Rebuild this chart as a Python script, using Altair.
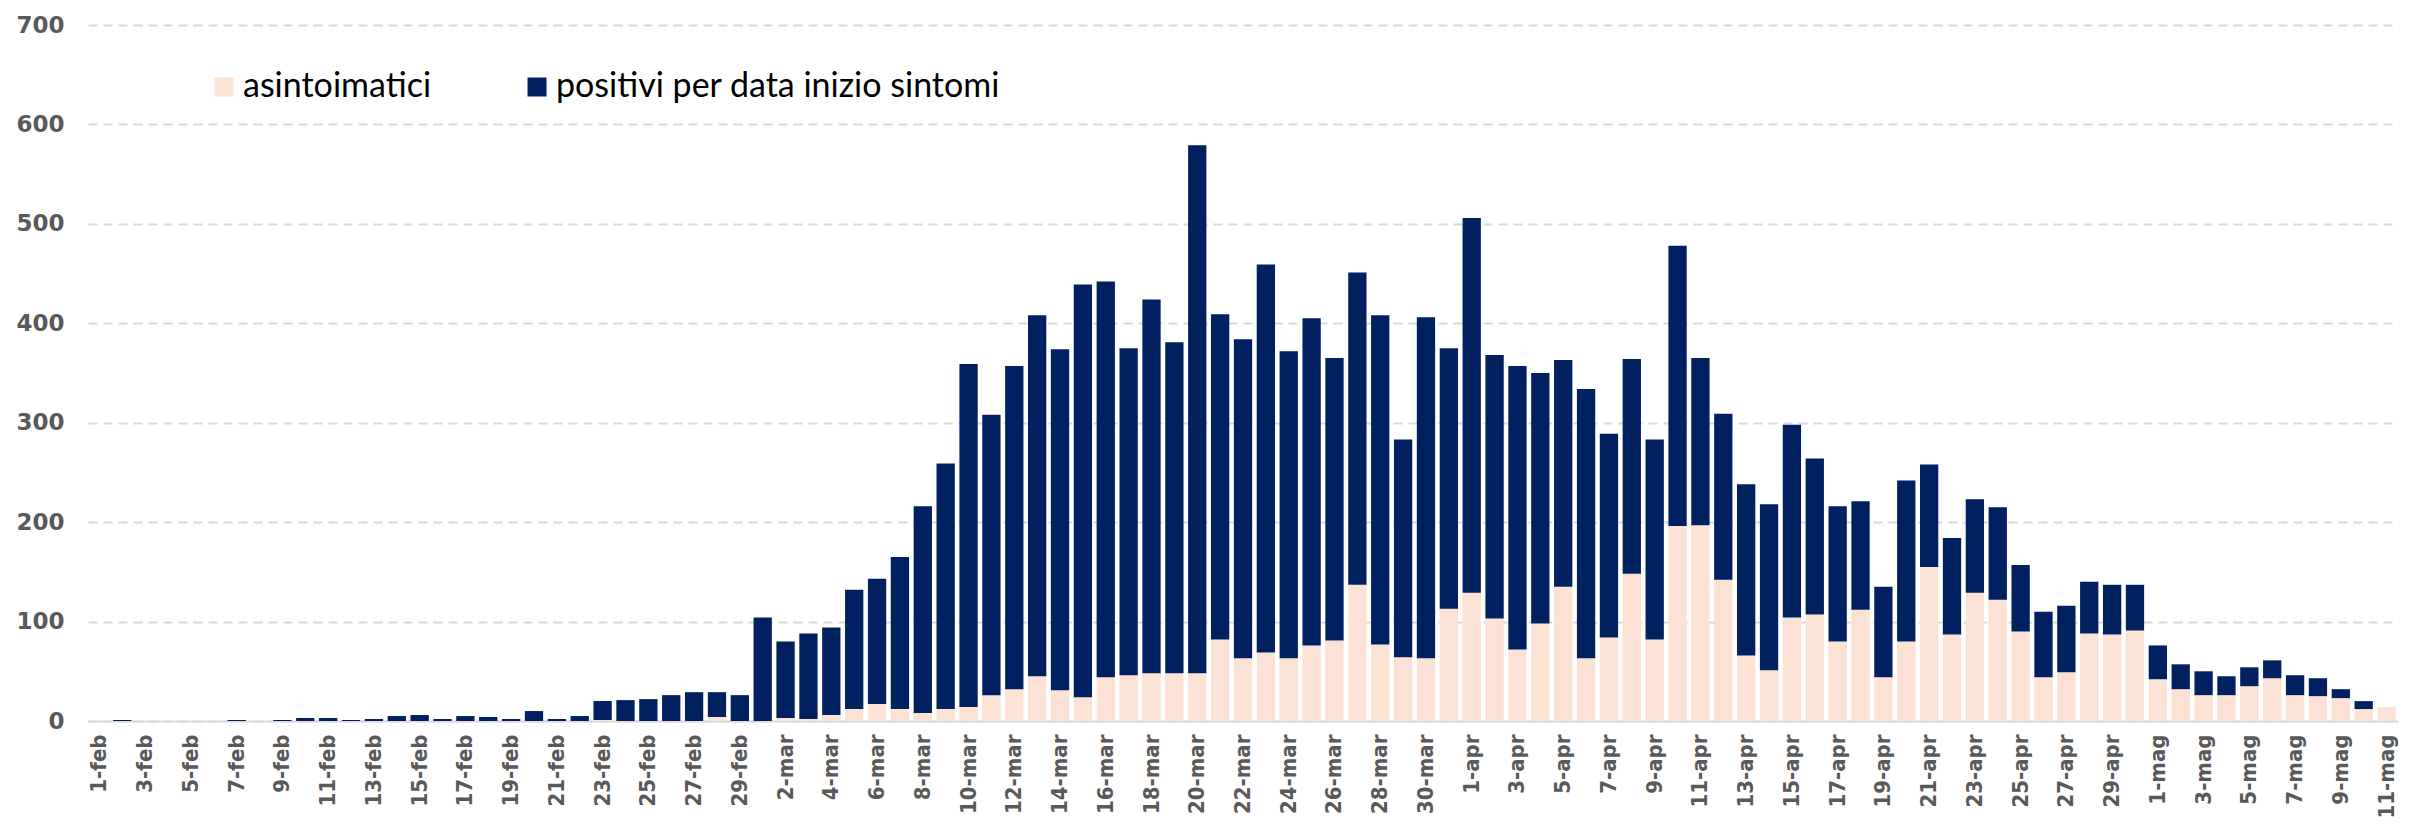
import altair as alt
import pandas as pd

# date categories (1 feb - 11 mag 2020)
months = [("feb", 29), ("mar", 31), ("apr", 30), ("mag", 11)]
dates = [f"{d}-{m}" for m, n in months for d in range(1, n + 1)]

series_names = ["asintoimatici", "positivi per data inizio sintomi"]
series_colors = ["#FBE2D5", "#002060"]

asintomatici = (
    # feb
    [0, 0, 0, 0, 0, 0, 0, 0, 0, 0, 0, 0, 0, 0, 0, 0, 0, 0, 0, 0, 0, 0, 1, 0, 0, 0, 0, 4, 0]
    # mar
    + [0, 3, 2, 6, 12, 17, 12, 8, 12, 14, 26, 32, 45, 31, 24, 44, 46, 48, 48, 48,
       82, 63, 69, 63, 76, 81, 137, 77, 64, 63, 113]
    # apr
    + [129, 103, 72, 98, 135, 63, 84, 148, 82, 196, 197, 142, 66, 51, 104, 107, 80, 112, 44, 80,
       155, 87, 129, 122, 90, 44, 49, 88, 87, 91]
    # mag
    + [42, 32, 26, 26, 35, 43, 26, 25, 23, 12, 14]
)

positivi = (
    # feb
    [0, 1, 0, 0, 0, 0, 1, 0, 1, 3, 3, 1, 2, 5, 6, 2, 5, 4, 2, 10, 2, 5, 19, 21, 22, 26, 29, 25, 26]
    # mar
    + [104, 77, 86, 88, 120, 126, 153, 208, 247, 345, 282, 325, 363, 343, 415, 398, 329, 376, 333, 531,
       327, 321, 390, 309, 329, 284, 314, 331, 219, 343, 262]
    # apr
    + [377, 265, 285, 252, 228, 271, 205, 216, 201, 282, 168, 167, 172, 167, 194, 157, 136, 109, 91, 162,
       103, 97, 94, 93, 67, 66, 67, 52, 50, 46]
    # mag
    + [34, 25, 24, 19, 19, 18, 20, 18, 9, 8, 0]
)

y_ticks = [0, 100, 200, 300, 400, 500, 600, 700]

rows = []
for i, d in enumerate(dates):
    rows.append({"data": d, "serie": series_names[0], "ordine": 0, "valore": asintomatici[i]})
    rows.append({"data": d, "serie": series_names[1], "ordine": 1, "valore": positivi[i]})
df = pd.DataFrame(rows)

chart = (
    alt.Chart(df)
    .mark_bar()
    .encode(
        x=alt.X(
            "data:N",
            sort=dates,
            scale=alt.Scale(paddingInner=0.2, paddingOuter=0.1),
            axis=alt.Axis(
                title=None,
                values=dates[::2],
                labelAngle=-90,
                ticks=False,
                grid=False,
                domainColor="#d9d9d9",
                domainWidth=2,
                labelPadding=13,
                labelFontSize=22,
                labelFont="DejaVu Sans Condensed, DejaVu Sans",
                labelFontWeight="bold",
                labelColor="#595959",
                labelOverlap=False,
                labelBound=False,
            ),
        ),
        y=alt.Y(
            "valore:Q",
            stack="zero",
            scale=alt.Scale(domain=[0, 700], nice=False),
            axis=alt.Axis(
                title=None,
                values=y_ticks,
                domain=False,
                ticks=False,
                labelPadding=24,
                labelFontSize=23,
                labelFont="DejaVu Sans",
                labelFontWeight="bold",
                labelColor="#595959",
                gridColor="#d9d9d9",
                gridDash=[9, 6],
                gridWidth=2,
            ),
        ),
        color=alt.Color(
            "serie:N",
            scale=alt.Scale(domain=series_names, range=series_colors),
            legend=alt.Legend(
                title=None,
                orient="none",
                legendX=119,
                legendY=45,
                direction="horizontal",
                symbolType="square",
                symbolSize=361,
                symbolStrokeWidth=0,
                labelFontSize=34,
                labelFont="Lato",
                labelColor="#000000",
                columnPadding=88,
                labelOffset=2,
                labelLimit=0,
            ),
        ),
        order=alt.Order("ordine:Q", sort="ascending"),
    )
    .properties(
        width=2310,
        height=696,
        autosize=alt.AutoSizeParams(type="none"),
        padding={"left": 80, "top": 17, "right": 8, "bottom": 96},
    )
    .configure_view(stroke=None)
)

chart.save("out.html", embed_options={"renderer": "svg", "actions": False})
